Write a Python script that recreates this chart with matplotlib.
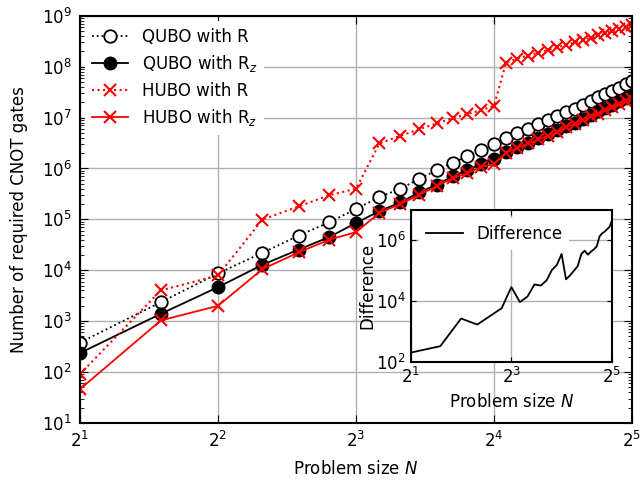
import numpy as np
import matplotlib
matplotlib.use("Agg")
import matplotlib.pyplot as plt
from matplotlib.ticker import LogLocator, NullLocator

# problem sizes N = 2 .. 32
sizes = list(range(2, 33))

qubo_r = [380, 2350, 8700, 22000, 48000, 88000, 160000, 275000, 400000, 630000,
          920000, 1.29e6, 1.75e6, 2.3e6, 3.0e6, 4.0e6, 4.9e6, 6.1e6, 7.4e6, 8.9e6,
          1.07e7, 1.28e7, 1.5e7, 1.8e7, 2.1e7, 2.5e7, 2.9e7, 3.4e7, 3.9e7, 4.5e7, 5.3e7]

qubo_rz = [236, 1390, 4650, 12800, 25500, 45000, 85000, 145000, 215000, 340000,
           480000, 700000, 920000, 1.24e6, 1.57e6, 2.1e6, 2.6e6, 3.2e6, 3.9e6, 4.7e6,
           5.7e6, 6.8e6, 8.0e6, 9.5e6, 1.12e7, 1.32e7, 1.55e7, 1.8e7, 2.1e7, 2.4e7, 2.8e7]

hubo_r = [91, 4000, 7900, 99000, 180000, 298000, 400000, 3.1e6, 4.4e6, 5.9e6,
          7.7e6, 9.7e6, 1.17e7, 1.4e7, 1.7e7, 1.2e8, 1.45e8, 1.66e8, 1.9e8, 2.14e8,
          2.4e8, 2.7e8, 3.0e8, 3.4e8, 3.7e8, 4.2e8, 4.6e8, 5.0e8, 5.5e8, 6.0e8, 6.6e8]

hubo_rz = [46, 1030, 2000, 10500, 22500, 40000, 56000, 135000, 200000, 305000,
           447000, 650000, 810000, 1.08e6, 1.21e6, 2.05e6, 2.53e6, 3.1e6, 3.75e6, 4.35e6,
           5.2e6, 6.45e6, 7.6e6, 9.0e6, 1.06e7, 1.19e7, 1.38e7, 1.6e7, 1.87e7, 2.1e7, 2.35e7]

difference = [210, 340, 2750, 1740, 3400, 6000, 29500, 9500, 14500, 36000,
              33000, 49000, 107000, 158000, 360000, 53000, 72000, 103000, 145000, 360000,
              460000, 340000, 430000, 510000, 640000, 1.35e6, 1.7e6, 1.95e6, 2.35e6, 2.8e6, 4.4e6]

plt.rcParams['font.family'] = 'DejaVu Sans'
plt.rcParams['font.size'] = 12
plt.rcParams['mathtext.default'] = 'regular'

fig = plt.figure(figsize=(6.4, 4.8), dpi=100)
ax = fig.add_axes([0.125, 0.119, 0.8625, 0.848])

ax.plot(sizes, qubo_r, ':', color='black', marker='o', markerfacecolor='white',
        markeredgecolor='black', markeredgewidth=1.3, markersize=9, lw=1.3,
        label='QUBO with R')
ax.plot(sizes, qubo_rz, '-', color='black', marker='o', markersize=9, lw=1.3,
        label='QUBO with R$_{\\mathit{z}}$')
ax.plot(sizes, hubo_r, ':', color='red', marker='x', markersize=9, markeredgewidth=1.5,
        lw=1.5, label='HUBO with R')
ax.plot(sizes, hubo_rz, '-', color='red', marker='x', markersize=9, markeredgewidth=1.5,
        lw=1.3, label='HUBO with R$_{\\mathit{z}}$')

ax.set_xscale('log', base=2)
ax.set_yscale('log')
ax.set_xlim(2, 32)
ax.set_ylim(1e1, 1e9)
ax.xaxis.set_minor_locator(NullLocator())
ax.yaxis.set_major_locator(LogLocator(base=10, numticks=20))
ax.yaxis.set_minor_locator(LogLocator(base=10, subs=np.arange(2, 10), numticks=20))
ax.tick_params(which='both', direction='in', top=True, right=True)
ax.tick_params(which='major', length=6, labelsize=12, pad=6)
ax.tick_params(which='minor', length=3)
ax.grid(True, which='major', color='#b0b0b0', lw=1)
ax.set_axisbelow(True)
for s in ax.spines.values():
    s.set_linewidth(1.5)
ax.set_xlabel('Problem size $\\mathit{N}$', labelpad=6)
ax.set_ylabel('Number of required CNOT gates', labelpad=10)

leg = ax.legend(loc='upper left', fontsize=12, framealpha=1, edgecolor='none',
                handlelength=2.2, borderaxespad=0.3, labelspacing=0.45)
leg.get_frame().set_facecolor('white')

# inset with the difference
ins = fig.add_axes([0.642, 0.245, 0.314, 0.3177])
ins.plot(sizes, difference, '-', color='black', lw=1.3, label='Difference')
ins.set_xscale('log', base=2)
ins.set_yscale('log')
ins.set_xlim(2, 32)
ins.set_ylim(1e2, 1e7)
ins.set_xticks([2, 8, 32])
ins.xaxis.set_minor_locator(NullLocator())
ins.set_yticks([1e2, 1e4, 1e6])
ins.yaxis.set_minor_locator(NullLocator())
ins.tick_params(which='both', direction='in', top=True, right=True, labelsize=12)
ins.grid(True, which='major', color='#b0b0b0', lw=1)
ins.set_axisbelow(True)
for s in ins.spines.values():
    s.set_linewidth(1.5)
ins.set_xlabel('Problem size $\\mathit{N}$', fontsize=12)
ins.set_ylabel('Difference', fontsize=12, labelpad=0)
ileg = ins.legend(loc='upper left', fontsize=12, framealpha=1, edgecolor='none',
                  handlelength=2.2)

fig.savefig('out.png', dpi=100)
